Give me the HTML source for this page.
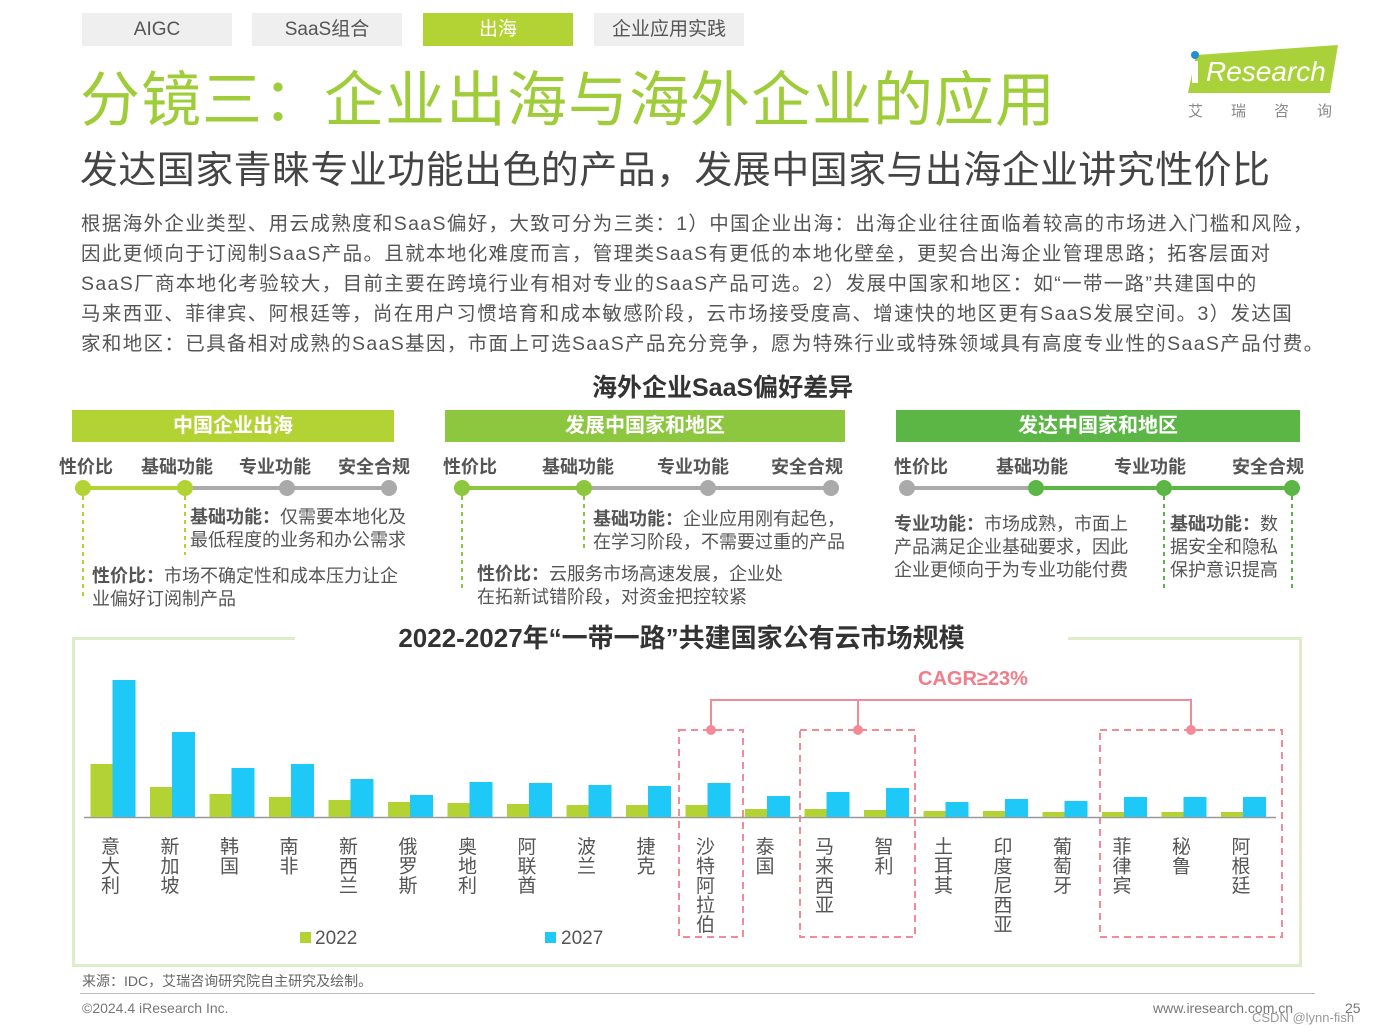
<!DOCTYPE html>
<html><head><meta charset="utf-8">
<style>
body{margin:0;width:1380px;height:1035px;background:#fff;position:relative;overflow:hidden;font-family:"Liberation Sans","Noto Sans CJK SC",sans-serif;color:#444}
.a{position:absolute;white-space:nowrap}
.tab{position:absolute;top:13px;height:33px;width:150px;background:#efefef;color:#555;font-size:19px;line-height:33px;text-align:center}
.ph{position:absolute;top:410px;height:32px;color:#fff;font-weight:bold;font-size:20px;line-height:32px;text-align:center}
.lb{position:absolute;top:453px;font-size:18px;font-weight:bold;color:#555;transform:translateX(-50%);white-space:nowrap}
.desc{position:absolute;font-size:18px;line-height:23px;color:#555}
.desc b{color:#555}
p{margin:0}
</style></head><body>
<div class="tab" style="left:82px">AIGC</div>
<div class="tab" style="left:252px">SaaS组合</div>
<div class="tab" style="left:423px;background:#b3d234;color:#fff">出海</div>
<div class="tab" style="left:594px">企业应用实践</div>

<div class="a" style="left:80px;top:52px;font-size:60px;color:#9fcd3a;letter-spacing:1px">分镜三：企业出海与海外企业的应用</div>
<div class="a" style="left:1188px;top:45px;width:150px;height:48px">
<svg width="150" height="50"><polygon points="8,10 150,0 142,48 0,48" fill="#a9d13a"/><text x="18" y="36" font-size="28" fill="#fff" font-style="italic" font-family="Liberation Sans">Research</text><rect x="4" y="16" width="6" height="22" fill="#fff"/><circle cx="7" cy="10" r="4" fill="#1e8fd0"/></svg></div>
<div class="a" style="left:1188px;top:100px;font-size:15px;color:#888;letter-spacing:28px">艾瑞咨询</div>

<div class="a" style="left:80px;top:139px;font-size:38px;color:#444;letter-spacing:0.4px">发达国家青睐专业功能出色的产品，发展中国家与出海企业讲究性价比</div>
<div class="a" style="left:81px;top:209px;font-size:19.5px;line-height:30px;color:#555;letter-spacing:1.35px">
<p>根据海外企业类型、用云成熟度和SaaS偏好，大致可分为三类：1）中国企业出海：出海企业往往面临着较高的市场进入门槛和风险，</p>
<p>因此更倾向于订阅制SaaS产品。且就本地化难度而言，管理类SaaS有更低的本地化壁垒，更契合出海企业管理思路；拓客层面对</p>
<p>SaaS厂商本地化考验较大，目前主要在跨境行业有相对专业的SaaS产品可选。2）发展中国家和地区：如“一带一路”共建国中的</p>
<p>马来西亚、菲律宾、阿根廷等，尚在用户习惯培育和成本敏感阶段，云市场接受度高、增速快的地区更有SaaS发展空间。3）发达国</p>
<p>家和地区：已具备相对成熟的SaaS基因，市面上可选SaaS产品充分竞争，愿为特殊行业或特殊领域具有高度专业性的SaaS产品付费。</p></div>
<div class="a" style="left:592px;top:368px;font-size:25px;font-weight:bold;color:#333">海外企业SaaS偏好差异</div>

<div class="ph" style="left:72px;width:322px;background:#b3d234">中国企业出海</div>
<div class="ph" style="left:445px;width:400px;background:#8dc63f">发展中国家和地区</div>
<div class="ph" style="left:896px;width:404px;background:#5cb646">发达中国家和地区</div>

<svg class="a" style="left:0;top:0" width="1380" height="620">
<g stroke-width="4"><line x1="83" y1="488" x2="185" y2="488" stroke="#b3d234"/><line x1="185" y1="488" x2="389" y2="488" stroke="#aaa"/>
<line x1="462" y1="488" x2="584" y2="488" stroke="#8dc63f"/><line x1="584" y1="488" x2="831" y2="488" stroke="#aaa"/>
<line x1="907" y1="488" x2="1036" y2="488" stroke="#aaa"/><line x1="1036" y1="488" x2="1292" y2="488" stroke="#5cb646"/></g>
<g><circle cx="83" cy="488" r="8" fill="#b3d234"/><circle cx="185" cy="488" r="8" fill="#b3d234"/><circle cx="287" cy="488" r="8" fill="#aaa"/><circle cx="389" cy="488" r="8" fill="#aaa"/>
<circle cx="462" cy="488" r="8" fill="#8dc63f"/><circle cx="584" cy="488" r="8" fill="#8dc63f"/><circle cx="708" cy="488" r="8" fill="#aaa"/><circle cx="831" cy="488" r="8" fill="#aaa"/>
<circle cx="907" cy="488" r="8" fill="#aaa"/><circle cx="1036" cy="488" r="8" fill="#5cb646"/><circle cx="1164" cy="488" r="8" fill="#5cb646"/><circle cx="1292" cy="488" r="8" fill="#5cb646"/></g>
<g stroke-width="2" stroke-dasharray="4,4"><line x1="83" y1="496" x2="83" y2="600" stroke="#b3d234"/><line x1="185" y1="496" x2="185" y2="555" stroke="#b3d234"/>
<line x1="462" y1="496" x2="462" y2="590" stroke="#8dc63f"/><line x1="584" y1="496" x2="584" y2="550" stroke="#8dc63f"/>
<line x1="1164" y1="496" x2="1164" y2="590" stroke="#5cb646"/><line x1="1292" y1="496" x2="1292" y2="590" stroke="#5cb646"/></g>
</svg>
<div class="lb" style="left:86px">性价比</div><div class="lb" style="left:177px">基础功能</div><div class="lb" style="left:275px">专业功能</div><div class="lb" style="left:374px">安全合规</div>
<div class="lb" style="left:470px">性价比</div><div class="lb" style="left:578px">基础功能</div><div class="lb" style="left:693px">专业功能</div><div class="lb" style="left:807px">安全合规</div>
<div class="lb" style="left:921px">性价比</div><div class="lb" style="left:1032px">基础功能</div><div class="lb" style="left:1150px">专业功能</div><div class="lb" style="left:1268px">安全合规</div>

<div class="desc" style="left:190px;top:506px"><b>基础功能：</b>仅需要本地化及<br>最低程度的业务和办公需求</div>
<div class="desc" style="left:92px;top:565px"><b>性价比：</b>市场不确定性和成本压力让企<br>业偏好订阅制产品</div>
<div class="desc" style="left:593px;top:508px"><b>基础功能：</b>企业应用刚有起色，<br>在学习阶段，不需要过重的产品</div>
<div class="desc" style="left:477px;top:563px"><b>性价比：</b>云服务市场高速发展，企业处<br>在拓新试错阶段，对资金把控较紧</div>
<div class="desc" style="left:894px;top:513px"><b>专业功能：</b>市场成熟，市面上<br>产品满足企业基础要求，因此<br>企业更倾向于为专业功能付费</div>
<div class="desc" style="left:1170px;top:513px"><b>基础功能：</b>数<br>据安全和隐私<br>保护意识提高</div>

<div class="a" style="left:72px;top:637px;width:1224px;height:324px;border:3px solid #dcedc8"></div>
<div class="a" style="left:295px;top:620px;width:773px;height:36px;background:#fff;text-align:center;font-size:26px;font-weight:bold;color:#333;line-height:36px">2022-2027年“一带一路”共建国家公有云市场规模</div>

<svg id="chart" class="a" style="left:0;top:0" width="1380" height="1035">
<g stroke="#f28b96" stroke-width="2" fill="none" stroke-dasharray="7,5">
<rect x="679" y="730" width="64" height="207"/><rect x="800" y="730" width="115" height="207"/><rect x="1100" y="730" width="182" height="207"/></g>
<g stroke="#f28b96" stroke-width="2" fill="none"><polyline points="711,730 711,700 1191,700 1191,730"/><line x1="858" y1="700" x2="858" y2="730"/></g>
<g fill="#f28b96"><circle cx="711" cy="730" r="5"/><circle cx="858" cy="730" r="5"/><circle cx="1191" cy="730" r="5"/></g>
<text x="973" y="685" font-size="20" font-weight="bold" fill="#f07d8a" text-anchor="middle">CAGR≥23%</text>
<line x1="84" y1="817.5" x2="1276" y2="817.5" stroke="#999" stroke-width="1.5"/>
<rect x="300" y="932" width="11" height="11" fill="#b3d234"/><text x="315" y="944" font-size="19" fill="#555">2022</text>
<rect x="545" y="932" width="11" height="11" fill="#1ec8f7"/><text x="561" y="944" font-size="19" fill="#555">2027</text>
</svg>

<div class="a" style="left:82px;top:971px;font-size:14px;color:#666">来源：IDC，艾瑞咨询研究院自主研究及绘制。</div>
<div class="a" style="left:80px;top:993px;width:1235px;height:1px;background:#bbb"></div>
<div class="a" style="left:82px;top:1000px;font-size:14px;color:#777">©2024.4 iResearch Inc.</div>
<div class="a" style="left:1153px;top:1000px;font-size:14px;color:#777">www.iresearch.com.cn</div>
<div class="a" style="left:1345px;top:1000px;font-size:14px;color:#777">25</div>
<div class="a" style="left:1252px;top:1010px;font-size:13px;color:#999">CSDN @lynn-fish</div>

<script>
const categories=["意大利","新加坡","韩国","南非","新西兰","俄罗斯","奥地利","阿联酋","波兰","捷克","沙特阿拉伯","泰国","马来西亚","智利","土耳其","印度尼西亚","葡萄牙","菲律宾","秘鲁","阿根廷"];
const values2022=[53,30,23,20,17,15,14,13,12,12,12,8,8,7,6,6,5,5,5,5];
const values2027=[137,85,49,53,38,22,35,34,32,31,34,21,25,29,15,18,16,20,20,20];
const svg=document.getElementById('chart');
const NS='http://www.w3.org/2000/svg';
const x0=90.5,step=59.5,bw=22,base=817,scale=1;
const xPos=i=>x0+i*step;
const yH=v=>v*scale;
categories.forEach((c,i)=>{
  const g=document.createElementNS(NS,'rect');
  g.setAttribute('x',xPos(i));g.setAttribute('y',base-yH(values2022[i]));g.setAttribute('width',bw);g.setAttribute('height',yH(values2022[i]));g.setAttribute('fill','#b3d234');
  
  
  svg.appendChild(g);
  const b=document.createElementNS(NS,'rect');
  b.setAttribute('x',xPos(i)+bw);b.setAttribute('y',base-yH(values2027[i]));b.setAttribute('width',bw+1);b.setAttribute('height',yH(values2027[i]));b.setAttribute('fill','#1ec8f7');
  
  
  svg.appendChild(b);
  const t=document.createElementNS(NS,'text');
  t.setAttribute('font-size','19');t.setAttribute('fill','#555');t.setAttribute('text-anchor','middle');
  
  
  [...c].forEach((ch,k)=>{const s=document.createElementNS(NS,'tspan');s.setAttribute('x',xPos(i)+20);s.setAttribute('y',853+k*19.5);s.textContent=ch;t.appendChild(s);});
  svg.appendChild(t);
});
</script>
</body></html>
